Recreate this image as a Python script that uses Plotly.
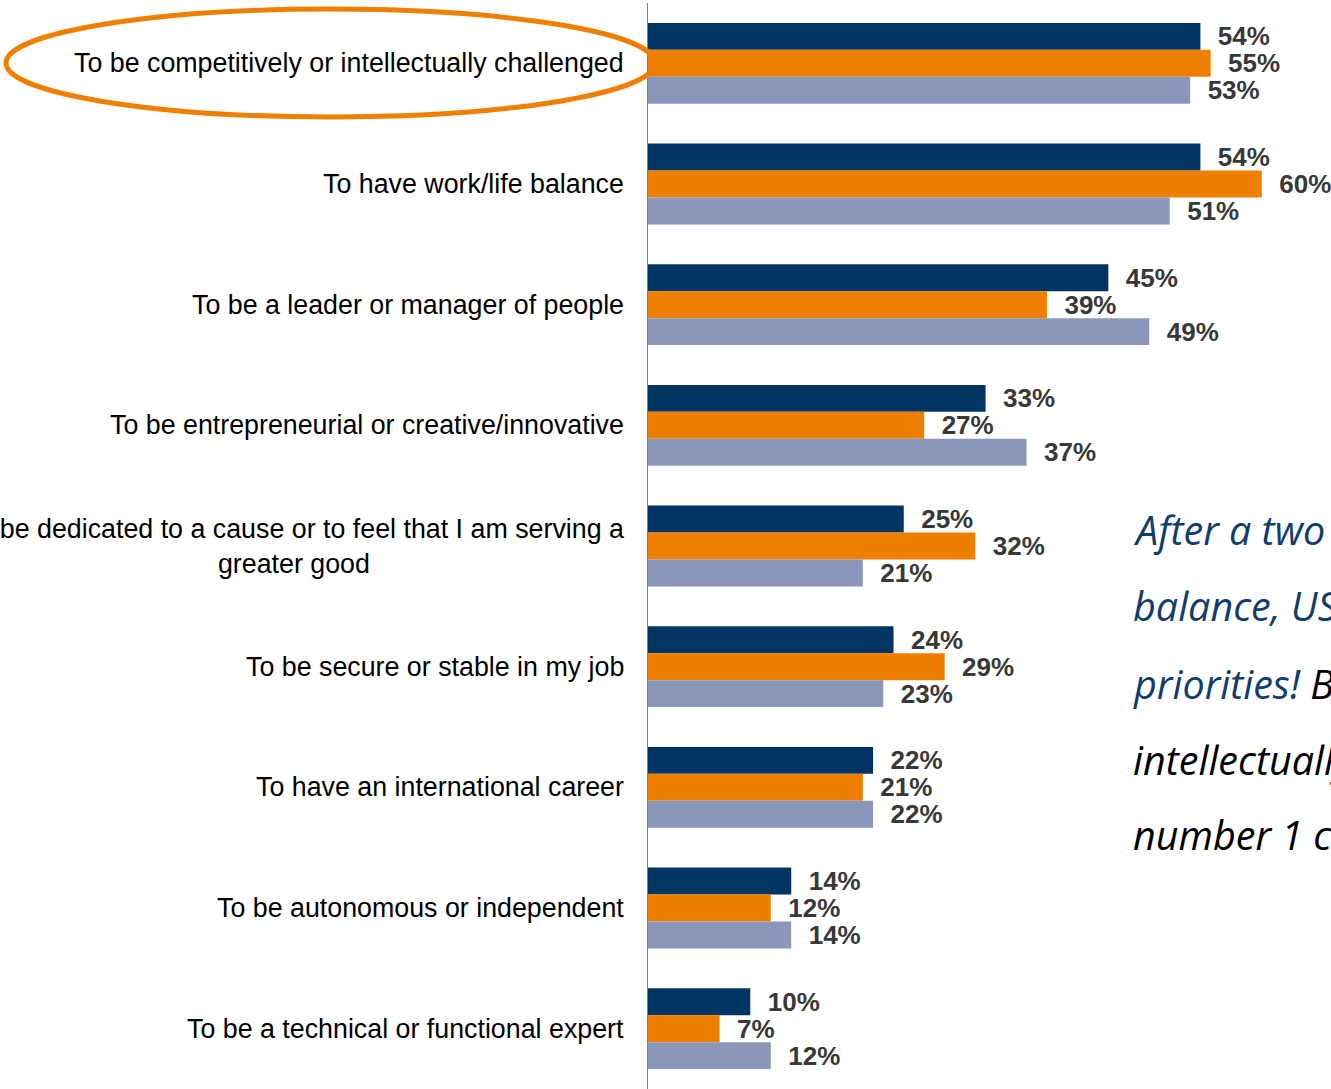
import plotly.graph_objects as go

# Career goals, share of respondents (%)
categories = [
    "To be competitively or intellectually challenged",
    "To have work/life balance",
    "To be a leader or manager of people",
    "To be entrepreneurial or creative/innovative",
    "To be dedicated to a cause or to feel that I am serving a<br>greater good",
    "To be secure or stable in my job",
    "To have an international career",
    "To be autonomous or independent",
    "To be a technical or functional expert",
]
series_a = [54, 54, 45, 33, 25, 24, 22, 14, 10]
series_b = [55, 60, 39, 27, 32, 29, 21, 12, 7]
series_c = [53, 51, 49, 37, 21, 23, 22, 14, 12]

series_names = ["Group A", "Group B", "Group C"]
series_colors = ["#003462", "#EF7F00", "#8A96BA"]

note_lines = [
    "After a two year focus on work/life",
    "balance, US MBAs are back to their",
    "priorities! <span style='color:#000000'>Being challenged competitively or</span>",
    "<span style='color:#000000'>intellectually is once again the</span>",
    "<span style='color:#000000'>number 1 career goal.</span>",
]

W, H = 1331, 1089
M_L, M_T, M_R, M_B = 648, 3, 0, 0
PX_PER_PCT = 10.23

fig = go.Figure()
for name, vals, col in zip(series_names, [series_a, series_b, series_c], series_colors):
    fig.add_trace(go.Bar(
        y=categories, x=vals, orientation="h", name=name,
        marker=dict(color=col, line=dict(width=0)),
        text=[f"\u00a0\u00a0{v}%" for v in vals],
        textposition="outside", cliponaxis=False, constraintext="none",
        textfont=dict(family="Liberation Sans, Arial, sans-serif", size=26,
                      color="#383838", weight="bold"),
        hoverinfo="skip",
    ))

annotations = []
for cat in categories:
    annotations.append(dict(
        xref="paper", yref="y", x=0, y=cat, xanchor="right", yanchor="middle",
        xshift=-22, text=cat, showarrow=False, align="center",
        font=dict(family="Liberation Sans, Arial, sans-serif", size=26.8, color="#000000"),
    ))

plot_w = W - M_L - M_R
plot_h = H - M_T - M_B


def px_x(p):
    return (p - M_L) / plot_w


def px_y(p):
    return 1 - (p - M_T) / plot_h


note_centers = [530, 606, 684, 760, 835]
for line, cy in zip(note_lines, note_centers):
    annotations.append(dict(
        xref="paper", yref="paper", x=px_x(1131), y=px_y(cy),
        xanchor="left", yanchor="middle", text=f"<i>{line}</i>", showarrow=False,
        align="left",
        font=dict(family="Open Sans, sans-serif", size=39.5, color="#123D6B"),
    ))

# Highlight ring around the top-ranked goal
shapes = [dict(
    type="circle", xref="paper", yref="paper",
    x0=px_x(6), x1=px_x(655), y0=px_y(117), y1=px_y(9),
    line=dict(color="#EF7F00", width=5), layer="above",
)]

fig.update_layout(
    width=W, height=H,
    margin=dict(l=M_L, r=M_R, t=M_T, b=M_B, pad=0),
    paper_bgcolor="white", plot_bgcolor="white",
    barmode="group", bargap=0.33, bargroupgap=0,
    showlegend=False,
    xaxis=dict(visible=False, range=[0, plot_w / PX_PER_PCT], fixedrange=True),
    yaxis=dict(type="category", categoryorder="array", categoryarray=categories,
               autorange="reversed", showticklabels=False, ticks="",
               showgrid=False, zeroline=False,
               showline=True, linecolor="#7F7F7F", linewidth=1),
    annotations=annotations, shapes=shapes,
)

fig.write_html("out.html")
